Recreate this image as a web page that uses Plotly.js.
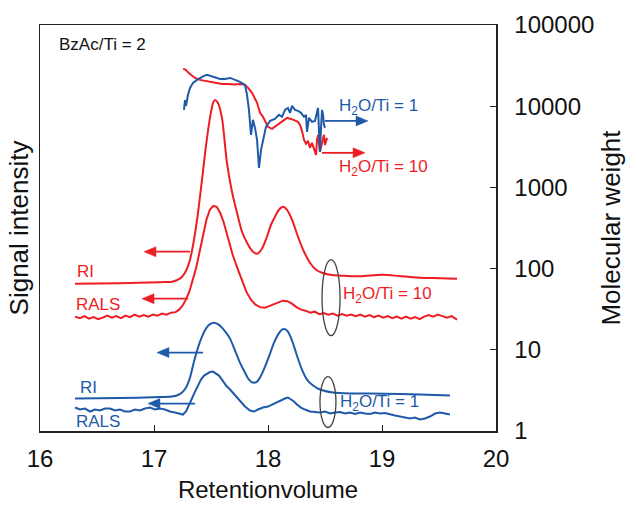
<!DOCTYPE html>
<html>
<head>
<meta charset="utf-8">
<script src="https://cdn.plot.ly/plotly-3.0.1.min.js"></script>
<style>html,body{margin:0;padding:0;background:#fff}#chart{width:637px;height:507px}</style>
</head>
<body>
<div id="chart"></div>
<script>
// ---- Data ----
// Signal intensity (arbitrary units) vs retention volume
const redRI_x = [16.307,16.702,17.053,17.158,17.211,17.246,17.281,17.316,17.351,17.386,17.421,17.456,17.491,17.518,17.535,17.561,17.596,17.640,17.684,17.728,17.772,17.816,17.860,17.904,17.947,17.991,18.026,18.061,18.096,18.132,18.167,18.211,18.263,18.316,18.368,18.421,18.474,18.544,18.658,18.807,19.009,19.158,19.333,19.509,19.658];
const redRI_y = [147.5,148,149,149.5,151.5,154.5,160.5,171.5,191.5,218.5,251.5,285.5,313.5,328.5,331.5,328.5,313.5,268.5,239.5,218.5,199.5,188.5,180.5,177.5,182.5,194.5,206.5,214.5,221.5,224.5,221.5,211.5,194.5,179.5,168.5,161.5,158.5,156.5,155.5,155,156.5,155,153.5,153,152.5];

const redRALS_x = [16.307,16.35,16.39,16.43,16.47,16.51,16.55,16.59,16.63,16.67,16.71,16.75,16.79,16.83,16.87,16.91,16.95,16.99,17.03,17.07,17.11,17.15,17.19,17.22,17.25,17.28,17.31,17.34,17.37,17.40,17.43,17.46,17.49,17.52,17.55,17.58,17.61,17.65,17.69,17.73,17.77,17.81,17.85,17.89,17.93,17.97,18.01,18.05,18.09,18.13,18.17,18.21,18.25,18.29,18.33,18.37,18.41,18.45,18.49,18.53,18.57,18.61,18.65,18.69,18.73,18.77,18.81,18.85,18.89,18.93,18.97,19.01,19.05,19.09,19.13,19.17,19.21,19.25,19.29,19.33,19.37,19.41,19.45,19.49,19.53,19.57,19.61,19.658];
const redRALS_y = [114.5,113,115,112.5,114,112,113.5,115.5,113.5,115,113,115.5,114,116.5,114.5,116,114.5,116.5,115.5,117.5,116.5,118.5,119,121.5,125.5,131.5,139.5,151.5,163.5,179.5,195.5,211.5,221.5,225.5,224.5,218.5,209.5,193.5,176.5,163.5,150.5,139.5,131.5,126.5,124,123.5,125,127,129,130.5,130,127.5,124,121.5,120.5,118.5,119.5,117,118,116.5,117.5,115.5,117,115.5,116.5,115,116.5,114.5,116,114,115.5,113.5,115,113,114.5,112.5,114.5,112.5,114,112,114.5,116,114.5,116.5,115,113.5,115,111.5];

const blueRI_x = [16.307,16.702,17.053,17.158,17.211,17.246,17.281,17.316,17.351,17.386,17.421,17.456,17.491,17.526,17.561,17.596,17.632,17.667,17.711,17.754,17.798,17.833,17.868,17.904,17.939,17.974,18.018,18.053,18.088,18.123,18.149,18.175,18.211,18.254,18.298,18.342,18.395,18.456,18.570,18.719,18.895,19.158,19.333,19.596];
const blueRI_y = [32.5,33,34,34.5,36,38.5,43.5,53.5,69.5,83.5,94.5,102.5,107,108.5,107,103.5,98.5,92.5,80.5,68.5,58.5,51.5,48.5,49.5,55.5,64.5,77.5,88.5,96.5,101.5,102,99.5,90.5,75.5,61.5,51.5,45.5,41.5,38.5,37.5,37.5,37,36.5,35.5];

const blueRALS_x = [16.307,16.351,16.395,16.439,16.482,16.526,16.570,16.614,16.658,16.702,16.746,16.789,16.833,16.877,16.921,16.965,17.009,17.053,17.096,17.140,17.184,17.228,17.254,17.281,17.307,17.333,17.360,17.386,17.412,17.439,17.465,17.491,17.518,17.544,17.570,17.596,17.632,17.667,17.711,17.754,17.798,17.842,17.877,17.912,17.956,18.0,18.035,18.079,18.114,18.149,18.175,18.202,18.228,18.254,18.289,18.325,18.368,18.412,18.456,18.5,18.544,18.588,18.632,18.675,18.719,18.763,18.807,18.851,18.895,18.939,18.982,19.026,19.070,19.114,19.158,19.202,19.246,19.289,19.333,19.377,19.421,19.465,19.509,19.553,19.596];
const blueRALS_y = [23.5,21.5,22.5,19.5,21.5,20.5,22.5,22.5,20.5,21.5,19.5,19.5,21.5,20.5,22.5,23.5,21.5,22.5,21.5,19.5,18.5,17.5,16.5,19.5,25.5,32.5,39.5,45.5,51.5,55.5,57.5,59,59.5,57.5,55.5,51.5,45.5,41.5,35.5,29.5,24.5,20.5,19.5,21.5,23.5,24.5,26.5,28.5,30.5,32.5,33.5,31.5,29.5,26.5,23.5,21.5,19.5,19,18.5,19.5,17.5,18.5,19,17.5,18.5,17,18.5,17.5,17,18.5,17.5,18,16.5,15.5,14.5,13.5,12.5,13.5,11.5,12.5,14.5,17.5,18.5,17.5,16.5];

// Molecular weight vs retention volume (right log axis)
const redMW_x = [17.255,17.272,17.316,17.360,17.404,17.447,17.491,17.535,17.596,17.649,17.711,17.754,17.798,17.825,17.860,17.904,17.930,17.956,17.982,18.0,18.035,18.061,18.088,18.132,18.167,18.202,18.237,18.263,18.281,18.298,18.316,18.334,18.351,18.368,18.386,18.403,18.421,18.430,18.439,18.456,18.465,18.491,18.500,18.518];
const redMW_y = [28800,28400,24900,22300,21100,20500,19900,19400,18800,18800,18500,18800,18300,16800,14600,11000,8280,7400,6240,5570,5260,5570,6050,6590,7180,6970,6590,6410,5890,4970,3850,3440,3740,3070,3530,2900,2520,3850,4440,2740,3070,4440,3340,4070];

const blueMW_x = [17.263,17.272,17.281,17.298,17.316,17.342,17.377,17.404,17.439,17.465,17.500,17.535,17.579,17.623,17.667,17.711,17.754,17.798,17.816,17.833,17.851,17.868,17.886,17.904,17.921,17.939,17.956,17.982,18.018,18.061,18.096,18.123,18.149,18.175,18.193,18.211,18.237,18.263,18.290,18.316,18.334,18.342,18.360,18.386,18.412,18.430,18.439,18.447,18.456,18.465,18.474,18.483,18.491,18.500];
const blueMW_y = [9000,11900,10100,13800,16800,19400,21100,22300,23600,24300,23600,22900,21700,21700,22300,21100,19900,18300,13800,9000,4440,6790,5410,3850,1740,2900,3850,5570,6590,6970,7820,7400,9000,9530,8280,10100,9000,8750,8280,7400,7820,4830,7180,6410,6590,8510,9530,5110,2740,5410,9000,7820,5890,5410];

const xTicks = [16,17,18,19,20];
const mwTicks = [1,10,100,1000,10000,100000];
const mwTickText = ['1','10','100','1000','10000','100000'];

// ---- Styling ----
const RED = '#ee1d24';
const BLUE = '#1f5aa8';
const FONT = 'Liberation Sans, Arial, sans-serif';

const traces = [
  {x: redRI_x, y: redRI_y, mode:'lines', line:{color:RED, width:2, shape:'spline', smoothing:0.8}, name:'RI H2O/Ti=10'},
  {x: redRALS_x, y: redRALS_y, mode:'lines', line:{color:RED, width:2}, name:'RALS H2O/Ti=10'},
  {x: blueRI_x, y: blueRI_y, mode:'lines', line:{color:BLUE, width:2, shape:'spline', smoothing:0.8}, name:'RI H2O/Ti=1'},
  {x: blueRALS_x, y: blueRALS_y, mode:'lines', line:{color:BLUE, width:2}, name:'RALS H2O/Ti=1'},
  {x: redMW_x, y: redMW_y, yaxis:'y2', mode:'lines', line:{color:RED, width:2}, name:'MW H2O/Ti=10'},
  {x: blueMW_x, y: blueMW_y, yaxis:'y2', mode:'lines', line:{color:BLUE, width:2}, name:'MW H2O/Ti=1'}
];

function txt(x, y, text, color, size) {
  return {x:x, y:y, xref:'x', yref:'y', text:text, showarrow:false, xanchor:'left', yanchor:'middle',
          font:{family:FONT, size:size, color:color}};
}
// horizontal arrow drawn as a line + filled triangular head (in axis units)
const HEAD_LEN = 0.105, HEAD_HALF = 5;
function arrowShapes(xTip, y, xTail, color) {
  const dir = xTip > xTail ? 1 : -1;
  const xb = xTip - dir * HEAD_LEN;
  return [
    {type:'line', xref:'x', yref:'y', x0:xTail, x1:xb, y0:y, y1:y, line:{color:color, width:1.8}},
    {type:'path', xref:'x', yref:'y', path:`M ${xTip} ${y} L ${xb} ${y + HEAD_HALF} L ${xb} ${y - HEAD_HALF} Z`,
     fillcolor:color, line:{color:color, width:0.5}}
  ];
}

const shapes = [].concat(
  arrowShapes(16.912, 179.5, 17.316, RED),
  arrowShapes(16.895, 132.5, 17.298, RED),
  arrowShapes(17.026, 78.5, 17.430, BLUE),
  arrowShapes(16.947, 27.5, 17.360, BLUE),
  arrowShapes(18.877, 310.5, 18.500, BLUE),
  arrowShapes(18.851, 278.5, 18.474, RED),
  [
    {type:'circle', xref:'x', yref:'y', x0:18.474, x1:18.632, y0:95.5, y1:171.5, line:{color:'#444', width:1.3}},
    {type:'circle', xref:'x', yref:'y', x0:18.456, x1:18.596, y0:3.5, y1:54.5, line:{color:'#444', width:1.3}}
  ]
);

const layout = {
  width:637, height:507,
  margin:{l:40, r:141, t:25, b:76},
  paper_bgcolor:'#fff', plot_bgcolor:'#fff',
  showlegend:false,
  font:{family:FONT, color:'#111'},
  xaxis:{range:[16,20], tickvals:xTicks, ticks:'inside', ticklen:6, tickwidth:1, tickcolor:'#222',
         showline:true, linecolor:'#222', linewidth:1.5, mirror:true, showgrid:false, zeroline:false,
         tickfont:{size:24, family:FONT, color:'#111'}, ticklabelstandoff:6,
         title:{text:'Retentionvolume', font:{size:24, family:FONT, color:'#111'}, standoff:10}},
  yaxis:{range:[0,406.5], showticklabels:false, ticks:'', showline:true, linecolor:'#222', linewidth:1.5,
         showgrid:false, zeroline:false,
         title:{text:'Signal intensity', font:{size:26, family:FONT, color:'#111'}, standoff:2}},
  yaxis2:{type:'log', range:[0,5], overlaying:'y', side:'right', tickvals:mwTicks, ticktext:mwTickText,
          ticks:'inside', ticklen:6, tickwidth:1, tickcolor:'#222', showline:true, linecolor:'#222', linewidth:1.5,
          showgrid:false, zeroline:false, tickfont:{size:24, family:FONT, color:'#111'}, ticklabelstandoff:12,
          title:{text:'Molecular weight', font:{size:26, family:FONT, color:'#111'}, standoff:8}},
  annotations:[
    txt(16.149, 386.5, 'BzAc/Ti = 2', '#111', 17),
    txt(16.307, 159.5, 'RI', RED, 17),
    txt(16.300, 126.5, 'RALS', RED, 17),
    txt(16.333, 43.5, 'RI', BLUE, 17),
    txt(16.300, 9.5, 'RALS', BLUE, 17),
    txt(18.640, 136.5, 'H<sub>2</sub>O/Ti = 10', RED, 17),
    txt(18.615, 28.5, 'H<sub>2</sub>O/Ti = 1', BLUE, 17),
    txt(18.605, 324.5, 'H<sub>2</sub>O/Ti = 1', BLUE, 17),
    txt(18.605, 263.5, 'H<sub>2</sub>O/Ti = 10', RED, 17)
  ],
  shapes: shapes
};

Plotly.newPlot('chart', traces, layout, {staticPlot:true, displayModeBar:false});
</script>
</body>
</html>
